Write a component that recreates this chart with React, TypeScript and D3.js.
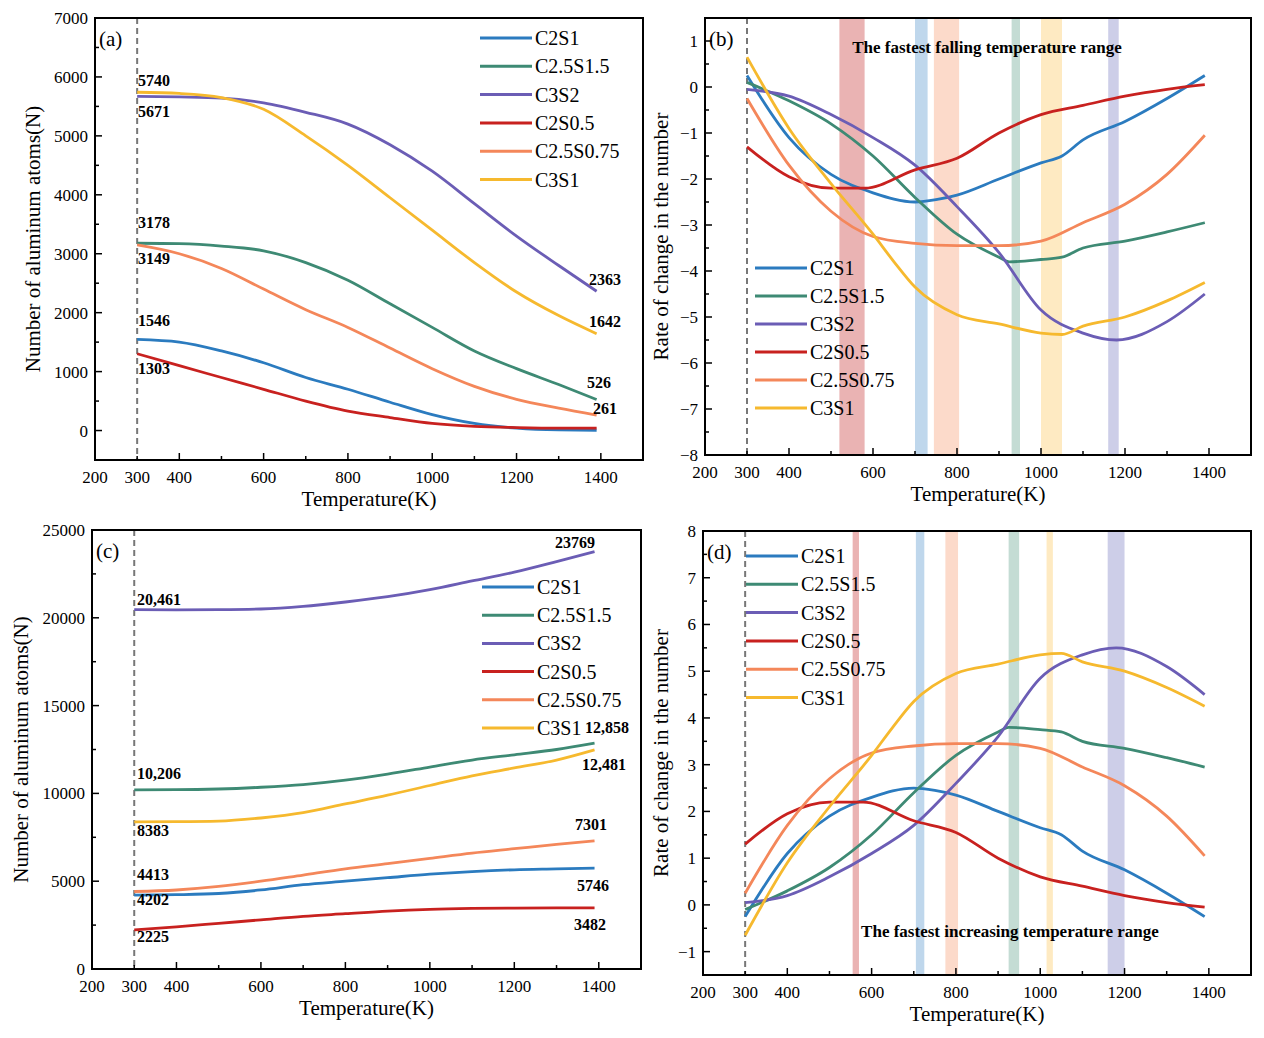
import React from "react";
import * as d3 from "d3";

const names = ["C2S1", "C2.5S1.5", "C3S2", "C2S0.5", "C2.5S0.75", "C3S1"];
const colors = ["#2b7bbf", "#3e8a74", "#6b5db5", "#c8211f", "#f4875a", "#f6b92e"];
const bandColors = ["#e39a9a", "#a9c9e6", "#fbcdb8", "#b0d0c6", "#fde3ae", "#bcbde0"];

const xTickLabels = [200, 300, 400, 600, 800, 1000, 1200, 1400];

// (a) number of atoms, falling
const tA = [300, 400, 500, 600, 700, 800, 900, 1000, 1100, 1200, 1300, 1390];
const aValues = [
  [1546, 1500, 1350, 1150, 900, 700, 480, 270, 120, 40, 10, 5],
  [3178, 3170, 3130, 3050, 2850, 2550, 2150, 1750, 1350, 1050, 780, 526],
  [5671, 5660, 5640, 5560, 5400, 5200, 4850, 4400, 3850, 3300, 2800, 2363],
  [1303, 1100, 900, 700, 500, 330, 220, 120, 70, 50, 40, 40],
  [3149, 3000, 2750, 2400, 2050, 1750, 1400, 1050, 750, 530, 380, 261],
  [5740, 5720, 5650, 5450, 5000, 4500, 3950, 3400, 2850, 2350, 1950, 1642],
];

// (b) rate of change, falling
const bT = [
  [300, 400, 500, 600, 700, 750, 800, 900, 1000, 1050, 1100, 1200, 1300, 1390],
  [300, 400, 500, 600, 700, 800, 900, 925, 1000, 1050, 1100, 1200, 1300, 1390],
  [300, 400, 500, 600, 700, 800, 900, 1000, 1100, 1180, 1300, 1390],
  [300, 400, 500, 580, 700, 800, 900, 1000, 1100, 1200, 1300, 1390],
  [300, 400, 500, 600, 700, 800, 900, 1000, 1100, 1200, 1300, 1390],
  [300, 400, 500, 600, 650, 700, 800, 900, 1000, 1050, 1100, 1200, 1300, 1390],
];
const bValues = [
  [0.25, -1.1, -1.9, -2.3, -2.5, -2.45, -2.35, -2.0, -1.65, -1.5, -1.15, -0.75, -0.25, 0.25],
  [0.1, -0.3, -0.8, -1.5, -2.4, -3.2, -3.7, -3.8, -3.75, -3.7, -3.5, -3.35, -3.15, -2.95],
  [-0.05, -0.2, -0.6, -1.1, -1.7, -2.6, -3.6, -4.85, -5.35, -5.5, -5.1, -4.5],
  [-1.3, -1.95, -2.2, -2.2, -1.8, -1.55, -1.0, -0.6, -0.4, -0.2, -0.05, 0.05],
  [-0.25, -1.7, -2.7, -3.25, -3.4, -3.45, -3.45, -3.35, -2.95, -2.55, -1.9, -1.05],
  [0.65, -0.9, -2.1, -3.2, -3.8, -4.35, -4.95, -5.15, -5.35, -5.38, -5.2, -5.0, -4.65, -4.25],
];
const bBands = [[520, 580], [700, 730], [745, 805], [930, 950], [1000, 1050], [1160, 1185]];

// (c) number of atoms, rising
const tC = [300, 400, 500, 600, 700, 800, 900, 1000, 1100, 1200, 1300, 1390];
const cValues = [
  [4202, 4230, 4300, 4500, 4800, 5000, 5200, 5400, 5550, 5650, 5700, 5746],
  [10206, 10210, 10250, 10350, 10500, 10750, 11100, 11500, 11900, 12200, 12500, 12858],
  [20461, 20450, 20460, 20500, 20650, 20900, 21200, 21600, 22100, 22600, 23200, 23769],
  [2225, 2400, 2600, 2800, 3000, 3150, 3300, 3400, 3450, 3470, 3480, 3482],
  [4413, 4500, 4700, 5000, 5350, 5700, 6000, 6300, 6600, 6850, 7100, 7301],
  [8383, 8390, 8420, 8600, 8900, 9400, 9900, 10450, 11000, 11450, 11900, 12481],
];

// (d) rate of change, rising
const dT = bT;
const dValues = [
  [-0.25, 1.1, 1.9, 2.3, 2.5, 2.45, 2.35, 2.0, 1.65, 1.5, 1.15, 0.75, 0.25, -0.25],
  [-0.1, 0.3, 0.8, 1.5, 2.4, 3.2, 3.7, 3.8, 3.75, 3.7, 3.5, 3.35, 3.15, 2.95],
  [0.05, 0.2, 0.6, 1.1, 1.7, 2.6, 3.6, 4.85, 5.35, 5.5, 5.1, 4.5],
  [1.3, 1.95, 2.2, 2.2, 1.8, 1.55, 1.0, 0.6, 0.4, 0.2, 0.05, -0.05],
  [0.25, 1.7, 2.7, 3.25, 3.4, 3.45, 3.45, 3.35, 2.95, 2.55, 1.9, 1.05],
  [-0.65, 0.9, 2.1, 3.2, 3.8, 4.35, 4.95, 5.15, 5.35, 5.38, 5.2, 5.0, 4.65, 4.25],
];
const dBands = [[555, 570], [705, 725], [775, 805], [925, 950], [1015, 1030], [1160, 1200]];

const font = "'Liberation Serif', 'Times New Roman', serif";

type Label = { x: number; y: number; text: string; anchor?: string };

type PanelProps = {
  left: number; top: number; width: number; height: number;
  yDomain: [number, number]; yTicks: number[]; yMinorStep: number;
  ts: number[][]; values: number[][]; bands?: number[][];
  letter: string; legend: [number, number]; legendGap: number;
  yTitle: string; yTitleX: number; labels: Label[];
  note?: { x: number; y: number; text: string };
};

function Panel(p: PanelProps) {
  const x = d3.scaleLinear().domain([200, 1500]).range([p.left, p.left + p.width]);
  const y = d3.scaleLinear().domain(p.yDomain).range([p.top + p.height, p.top]);
  const line = d3.line<[number, number]>().x(d => x(d[0])).y(d => y(d[1])).curve(d3.curveMonotoneX);
  const b = p.top + p.height;
  const xMinor = d3.range(300, 1500, 100);
  const yMinor = d3.range(p.yDomain[0], p.yDomain[1] + 1e-9, p.yMinorStep);
  const fmt = (v: number) => (v < 0 ? "\u2212" + Math.abs(v) : String(v));
  return (
    <g fontFamily={font}>
      {p.bands && p.bands.map((r, i) => (
        <rect key={i} x={x(r[0])} y={p.top} width={x(r[1]) - x(r[0])} height={p.height} fill={bandColors[i]} opacity={0.75} />
      ))}
      <line x1={x(300)} x2={x(300)} y1={p.top} y2={b} stroke="#777" strokeWidth={2} strokeDasharray="6,4" />
      {p.values.map((vs, i) => (
        <path key={i} d={line(vs.map((v, j) => [p.ts[i][j], v]) as [number, number][]) || ""} fill="none" stroke={colors[i]} strokeWidth={2.8} />
      ))}
      <rect x={p.left} y={p.top} width={p.width} height={p.height} fill="none" stroke="#000" strokeWidth={2} />
      {xMinor.map(t => (
        <line key={t} x1={x(t)} x2={x(t)} y1={b} y2={b - (t % 200 === 0 ? 7 : 4)} stroke="#000" strokeWidth={1.5} />
      ))}
      {xTickLabels.map(t => (
        <text key={t} x={x(t)} y={b + 23} fontSize={17} textAnchor="middle">{t}</text>
      ))}
      <text x={p.left + p.width / 2} y={b + 46} fontSize={21} textAnchor="middle">Temperature(K)</text>
      {yMinor.map((t, i) => (
        <line key={i} x1={p.left} x2={p.left + (p.yTicks.some(v => Math.abs(v - t) < 1e-6) ? 7 : 4)} y1={y(t)} y2={y(t)} stroke="#000" strokeWidth={1.5} />
      ))}
      {p.yTicks.map(t => (
        <text key={t} x={p.left - 7} y={y(t) + 6} fontSize={17} textAnchor="end">{fmt(t)}</text>
      ))}
      <text transform={`translate(${p.yTitleX},${p.top + p.height / 2}) rotate(-90)`} fontSize={21} textAnchor="middle">{p.yTitle}</text>
      <text x={p.left + 4} y={p.top + 28} fontSize={21}>{p.letter}</text>
      {names.map((n, i) => (
        <g key={n} transform={`translate(${p.legend[0]},${p.legend[1] + i * p.legendGap})`}>
          <line x1={0} x2={52} y1={0} y2={0} stroke={colors[i]} strokeWidth={3} />
          <text x={55} y={7} fontSize={20}>{n}</text>
        </g>
      ))}
      {p.labels.map((l, i) => (
        <text key={i} x={l.x} y={l.y} fontSize={16} fontWeight="bold" textAnchor={l.anchor || "start"}>{l.text}</text>
      ))}
      {p.note && <text x={p.note.x} y={p.note.y} fontSize={17} fontWeight="bold" textAnchor="middle">{p.note.text}</text>}
    </g>
  );
}

export default function App() {
  const aTs = names.map(() => tA);
  const cTs = names.map(() => tC);
  return (
    <svg width={1264} height={1038} style={{ position: "absolute", left: 0, top: 0, background: "#fff" }}>
      <Panel left={95} top={18} width={548} height={442} yDomain={[-500, 7000]} yTicks={[0, 1000, 2000, 3000, 4000, 5000, 6000, 7000]} yMinorStep={500}
        ts={aTs} values={aValues} letter="(a)" legend={[480, 38]} legendGap={28.3}
        yTitle="Number of aluminum atoms(N)" yTitleX={40}
        labels={[
          { x: 138, y: 86, text: "5740" }, { x: 138, y: 117, text: "5671" },
          { x: 138, y: 228, text: "3178" }, { x: 138, y: 264, text: "3149" },
          { x: 138, y: 326, text: "1546" }, { x: 138, y: 374, text: "1303" },
          { x: 589, y: 285, text: "2363" }, { x: 589, y: 327, text: "1642" },
          { x: 587, y: 388, text: "526" }, { x: 593, y: 414, text: "261" },
        ]} />
      <Panel left={705} top={18} width={546} height={437} yDomain={[-8, 1.5]} yTicks={[-8, -7, -6, -5, -4, -3, -2, -1, 0, 1]} yMinorStep={0.5}
        ts={bT} values={bValues} bands={bBands} letter="(b)" legend={[755, 268]} legendGap={28}
        yTitle="Rate of change in the number" yTitleX={668}
        labels={[]} note={{ x: 987, y: 53, text: "The fastest falling temperature range" }} />
      <Panel left={92} top={530} width={549} height={439} yDomain={[0, 25000]} yTicks={[0, 5000, 10000, 15000, 20000, 25000]} yMinorStep={2500}
        ts={cTs} values={cValues} letter="(c)" legend={[482, 587]} legendGap={28.2}
        yTitle="Number of aluminum atoms(N)" yTitleX={28}
        labels={[
          { x: 555, y: 548, text: "23769" }, { x: 137, y: 605, text: "20,461" },
          { x: 585, y: 733, text: "12,858" }, { x: 137, y: 779, text: "10,206" },
          { x: 582, y: 770, text: "12,481" }, { x: 137, y: 836, text: "8383" },
          { x: 575, y: 830, text: "7301" }, { x: 137, y: 880, text: "4413" },
          { x: 137, y: 905, text: "4202" }, { x: 577, y: 891, text: "5746" },
          { x: 137, y: 942, text: "2225" }, { x: 574, y: 930, text: "3482" },
        ]} />
      <Panel left={703} top={531} width={548} height={444} yDomain={[-1.5, 8]} yTicks={[-1, 0, 1, 2, 3, 4, 5, 6, 7, 8]} yMinorStep={0.5}
        ts={dT} values={dValues} bands={dBands} letter="(d)" legend={[746, 556]} legendGap={28.3}
        yTitle="Rate of change in the number" yTitleX={668}
        labels={[]} note={{ x: 1010, y: 937, text: "The fastest increasing temperature range" }} />
    </svg>
  );
}
